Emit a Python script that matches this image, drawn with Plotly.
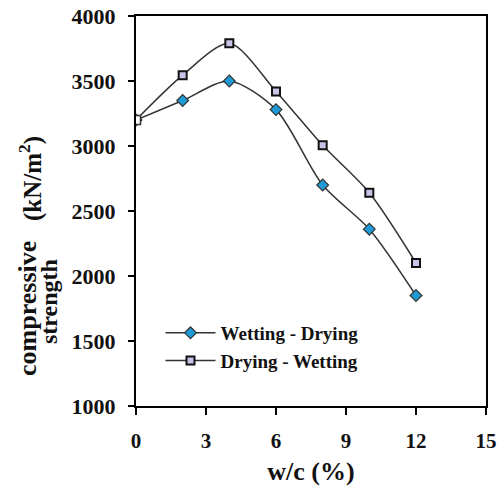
import plotly.graph_objects as go

wc = [0, 2, 4, 6, 8, 10, 12]
wetting_drying = [3200, 3350, 3500, 3280, 2700, 2360, 1850]
drying_wetting = [3200, 3545, 3790, 3420, 3005, 2640, 2100]
x_ticks = [0, 3, 6, 9, 12, 15]
y_ticks = [1000, 1500, 2000, 2500, 3000, 3500, 4000]

FONT = "Liberation Serif"
INK = "#111111"

fig = go.Figure()
fig.add_trace(go.Scatter(
    x=wc, y=wetting_drying, name="Wetting - Drying",
    mode="lines+markers", line=dict(color="#333333", width=1.5, shape="spline", smoothing=0.8),
    marker=dict(symbol="diamond", size=9, color="#1E9BD7", line=dict(color="#333333", width=1.2)),
))
fig.add_trace(go.Scatter(
    x=wc, y=drying_wetting, name="Drying - Wetting",
    mode="lines+markers", line=dict(color="#333333", width=1.5, shape="spline", smoothing=0.8),
    marker=dict(symbol="square", size=8, color="#C8C4E8", line=dict(color="#111111", width=2)),
))
# shared starting point drawn as an open square
fig.add_trace(go.Scatter(
    x=wc[:1], y=drying_wetting[:1], mode="markers", showlegend=False, hoverinfo="skip",
    marker=dict(symbol="square", size=9, color="#FFFFFF", line=dict(color="#333333", width=1.5)),
))

fig.update_layout(
    width=497, height=486,
    margin=dict(l=136, r=11, t=16, b=80),
    paper_bgcolor="white", plot_bgcolor="white",
    font=dict(family=FONT, color=INK),
    showlegend=True,
    legend=dict(x=0.07, y=0.236, xanchor="left", yanchor="top", itemwidth=50,
                bgcolor="rgba(0,0,0,0)", font=dict(family=FONT, size=19, color=INK, weight="bold"),
                tracegroupgap=0),
    xaxis=dict(range=[0, 15], tickvals=x_ticks, showgrid=False, zeroline=False, automargin=False,
               showline=True, linecolor="black", linewidth=2, mirror=True,
               ticks="outside", ticklen=7, tickwidth=2, tickcolor="black", ticklabelstandoff=8,
               tickfont=dict(family=FONT, size=21, color=INK, weight="bold"),
               title=dict(text="w/c (%)", font=dict(family=FONT, size=26, color=INK, weight="bold"), standoff=12)),
    yaxis=dict(range=[1000, 4000], tickvals=y_ticks, showgrid=False, zeroline=False, automargin=False,
               showline=True, linecolor="black", linewidth=2, mirror=True,
               ticks="outside", ticklen=6, tickwidth=2, tickcolor="black", ticklabelstandoff=8,
               tickfont=dict(family=FONT, size=22, color=INK, weight="bold")),
)

# y-axis title parts positioned in pixel terms
W, H = 497, 486
L, R, T, B = 136, 11, 16, 80
pw, ph = W - L - R, H - T - B
def px(xp):
    return (xp - L) / pw
def py(yp):
    return (H - B - yp) / ph

common = dict(xref="paper", yref="paper", showarrow=False, textangle=-90,
              xanchor="center", yanchor="middle")
fig.add_annotation(text="<b>compressive</b>", x=px(27), y=py(309),
                   font=dict(family=FONT, size=26, color=INK), **common)
fig.add_annotation(text="<b>strength</b>", x=px(49), y=py(302),
                   font=dict(family=FONT, size=24, color=INK), **common)
fig.add_annotation(text="<b>(kN/m<sup>2</sup>)</b>", x=px(31), y=py(179),
                   font=dict(family=FONT, size=25, color=INK), **common)

fig.write_html("out.html")
